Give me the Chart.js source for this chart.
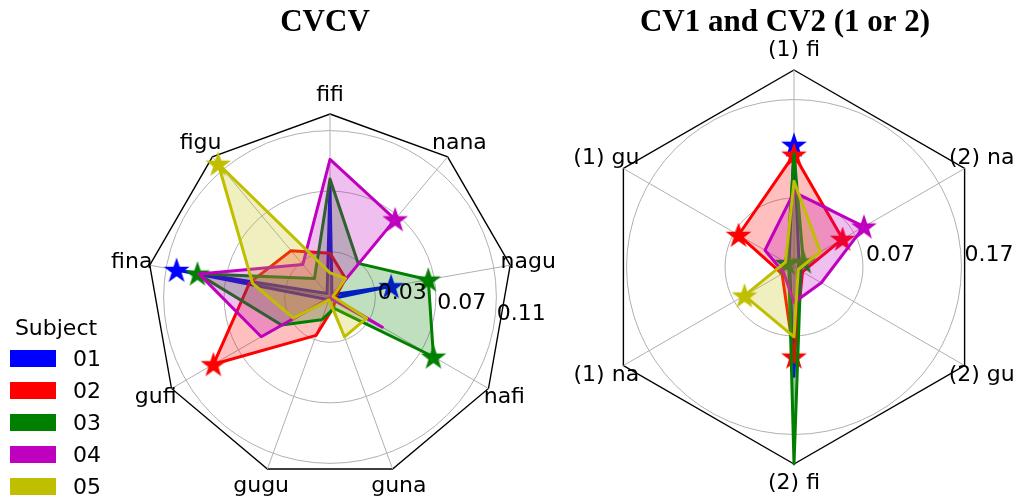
<!DOCTYPE html>
<html>
<head>
<meta charset="utf-8">
<script src="https://cdn.jsdelivr.net/npm/chart.js@4.4.1/dist/chart.umd.min.js"></script>
<style>
  html, body { margin: 0; padding: 0; background: #fff; }
  body { width: 1024px; height: 502px; position: relative; overflow: hidden; font-family: "DejaVu Sans", sans-serif; }
  #cvcvChart { position: absolute; left: 0; top: 0; }
  #cvChart { position: absolute; left: 560px; top: 0; }
  #legend { position: absolute; left: 0; top: 0; font-size: 22px; color: #000; }
  #legend .ttl { position: absolute; left: 0; top: 312px; width: 112px; text-align: center; line-height: 32px; }
  #legend .row { position: absolute; left: 10px; height: 32px; line-height: 32px; white-space: nowrap; }
  #legend .sw { display: inline-block; width: 46px; height: 17px; vertical-align: middle; margin-right: 17px; position: relative; top: -2px; }
</style>
</head>
<body>
<canvas id="cvcvChart" width="560" height="502"></canvas>
<canvas id="cvChart" width="464" height="502"></canvas>
<div id="legend"><div class="ttl">Subject</div></div>
<script>
const subjects = ["01", "02", "03", "04", "05"];
const colors = ["#0000ff", "#ff0000", "#008000", "#bf00bf", "#bfbf00"];
const fills = ["rgba(0,0,255,0.25)", "rgba(255,0,0,0.25)", "rgba(0,128,0,0.25)", "rgba(191,0,191,0.25)", "rgba(191,191,0,0.25)"];

// CVCV
const cvcvLabels = ["fifi", "nana", "nagu", "nafi", "guna", "gugu", "gufi", "fina", "figu"];
const cvcvTicks = [0.03, 0.07, 0.11];
const cvcvMax = 0.121;
const cvcv01 = [0.074, 0.002, 0.041, 0.002, 0.002, 0.002, 0.003, 0.103, 0.003];
const cvcv02 = [0.029, 0.016, 0.004, 0.004, 0.007, 0.027, 0.089, 0.054, 0.040];
const cvcv03 = [0.078, 0.029, 0.066, 0.079, 0.008, 0.016, 0.037, 0.089, 0.016];
const cvcv04 = [0.091, 0.067, 0.001, 0.040, 0.001, 0.001, 0.0525, 0.088, 0.028];
const cvcv05 = [0.016, 0.016, 0.002, 0.028, 0.028, 0.002, 0.028, 0.052, 0.115];
const cvcvStars = [["nagu", "fina"], ["gufi"], ["nagu", "nafi", "fina"], ["nana"], ["figu"]];

// CV1 and CV2
const cvLabels = ["(1) fi", "(2) na", "(2) gu", "(2) fi", "(1) na", "(1) gu"];
const cvTicks = [0.07, 0.17];
const cvMax = 0.2;
const cv01 = [0.124, 0.006, 0.005, 0.111, 0.005, 0.006];
const cv02 = [0.114, 0.057, 0.010, 0.091, 0.014, 0.065];
const cv03 = [0.115, 0.011, 0.008, 0.200, 0.006, 0.008];
const cv04 = [0.076, 0.082, 0.032, 0.036, 0.012, 0.034];
const cv05 = [0.087, 0.031, 0.005, 0.071, 0.058, 0.010];
const cvStars = [["(1) fi"], ["(1) fi", "(2) na", "(2) fi", "(1) gu"], ["(2) na", "(1) gu"], ["(2) na"], ["(1) na"]];

// filled five-point star used as point marker
function starImage(color) {
  const c = document.createElement("canvas");
  c.width = c.height = 28;
  const g = c.getContext("2d");
  g.beginPath();
  for (let k = 0; k < 10; k++) {
    const rad = k % 2 ? 5.3 : 13.5;
    const a = -Math.PI / 2 + k * Math.PI / 5;
    g.lineTo(14 + rad * Math.cos(a), 15 + rad * Math.sin(a));
  }
  g.closePath();
  g.fillStyle = color;
  g.fill();
  return c;
}
const stars = colors.map(starImage);

// outer labels, radial tick labels and title
const radarDecor = {
  id: "radarDecor",
  afterDatasetsDraw(chart, args, o) {
    const r = chart.scales.r;
    const ctx = chart.ctx;
    ctx.save();
    ctx.fillStyle = "#000";
    ctx.font = "22px 'DejaVu Sans'";
    ctx.textAlign = "center";
    ctx.textBaseline = "middle";
    chart.data.labels.forEach((lab, i) => {
      const p = r.getPointPosition(i, r.drawingArea * 1.1);
      ctx.fillText(lab, p.x, p.y);
    });
    ctx.textAlign = "left";
    const a = o.tickAngle * Math.PI / 180;
    o.ticks.forEach(v => {
      const d = r.getDistanceFromCenterForValue(v);
      ctx.fillText(v.toFixed(2), r.xCenter + d * Math.cos(a) + 3, r.yCenter + d * Math.sin(a) - 12);
    });
    ctx.font = "bold 31px 'Liberation Serif'";
    ctx.textAlign = "center";
    ctx.textBaseline = "alphabetic";
    ctx.fillText(o.title, o.titleX, 31);
    ctx.restore();
  }
};

function makeRadar(id, labels, series, starList, max, ticks, padding, decor) {
  // the last ring is the black polygon frame
  const isFrame = c => !!(c.tick && c.tick.value >= max);
  new Chart(document.getElementById(id), {
    type: "radar",
    data: {
      labels: labels,
      datasets: series.map((vals, i) => ({
        label: subjects[i],
        data: vals,
        borderColor: colors[i],
        backgroundColor: fills[i],
        borderWidth: 3,
        borderJoinStyle: "round",
        fill: true,
        tension: 0,
        pointStyle: stars[i],
        pointRadius: labels.map(l => starList[i].includes(l) ? 13 : 0),
        pointHoverRadius: 0,
        order: series.length - i
      }))
    },
    options: {
      responsive: false,
      animation: false,
      events: [],
      layout: { padding: padding },
      plugins: {
        legend: { display: false },
        tooltip: { enabled: false },
        radarDecor: decor
      },
      scales: {
        r: {
          min: 0,
          max: max,
          afterBuildTicks: s => { s.ticks = [0, ...ticks, max].map(v => ({ value: v })); },
          ticks: { display: false },
          pointLabels: { display: false },
          angleLines: { color: "#b0b0b0", lineWidth: 1 },
          grid: {
            circular: c => !isFrame(c),
            color: c => isFrame(c) ? "#000" : "#b0b0b0",
            lineWidth: c => isFrame(c) ? 1.4 : 1
          }
        }
      }
    },
    plugins: [radarDecor]
  });
}

makeRadar("cvcvChart", cvcvLabels, [cvcv01, cvcv02, cvcv03, cvcv04, cvcv05], cvcvStars, cvcvMax, cvcvTicks,
  { left: 147, right: 47, top: 114, bottom: 22 },
  { title: "CVCV", titleX: 325, tickAngle: 10, ticks: cvcvTicks });

makeRadar("cvChart", cvLabels, [cv01, cv02, cv03, cv04, cv05], cvStars, cvMax, cvTicks,
  { left: 37, right: 33, top: 70, bottom: 38 },
  { title: "CV1 and CV2 (1 or 2)", titleX: 225, tickAngle: 0, ticks: cvTicks });

// legend
const legend = document.getElementById("legend");
subjects.forEach((s, i) => {
  const row = document.createElement("div");
  row.className = "row";
  row.style.top = (343 + 32 * i) + "px";
  row.innerHTML = '<span class="sw" style="background:' + colors[i] + '"></span>' + s;
  legend.appendChild(row);
});
</script>
</body>
</html>
